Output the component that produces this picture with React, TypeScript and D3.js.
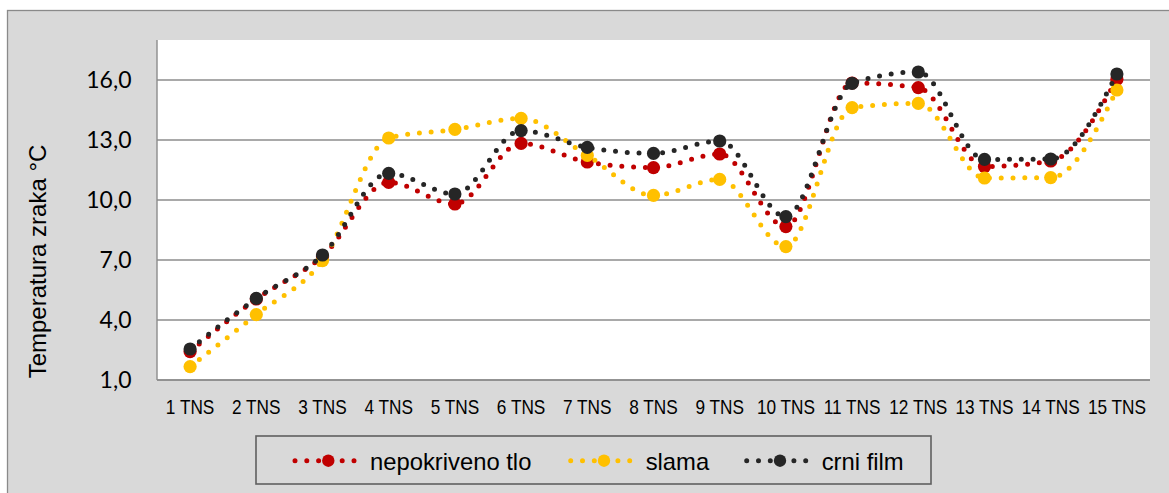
import React from 'react';
import * as d3 from 'd3';

const categories = ['1 TNS', '2 TNS', '3 TNS', '4 TNS', '5 TNS', '6 TNS', '7 TNS', '8 TNS', '9 TNS', '10 TNS', '11 TNS', '12 TNS', '13 TNS', '14 TNS', '15 TNS'];
const nepokrivenoTlo = [2.42, 5.05, 7.18, 10.88, 9.8, 12.83, 11.9, 11.62, 12.3, 8.67, 15.85, 15.62, 11.67, 11.95, 16.03];
const slama = [1.67, 4.27, 6.97, 13.1, 13.53, 14.08, 12.23, 10.23, 11.03, 7.67, 14.62, 14.83, 11.1, 11.12, 15.5];
const crniFilm = [2.55, 5.08, 7.25, 11.33, 10.3, 13.47, 12.63, 12.33, 12.95, 9.17, 15.83, 16.4, 12.03, 12.05, 16.3];
const yTicks = [1, 4, 7, 10, 13, 16];
const seriesNames = ['nepokriveno tlo', 'slama', 'crni film'];
const seriesColors = ['#c00000', '#ffc000', '#262626'];
const yTitle = 'Temperatura zraka °C';

const W = 1169;
const H = 493;
const plot = { left: 157, right: 1150, top: 40, bottom: 380 };

export default function App() {
  const x = d3.scaleBand<string>().domain(categories).range([plot.left, plot.right]);
  const y = d3.scaleLinear().domain([1, 18]).range([plot.bottom, plot.top]);
  const cx = (c: string) => (x(c) as number) + x.bandwidth() / 2;

  const allSeries = [nepokrivenoTlo, slama, crniFilm];
  const line = d3
    .line<number>()
    .x((_, i) => cx(categories[i]))
    .y((d) => y(d))
    .curve(d3.curveMonotoneX);

  const fmt = (v: number) => v.toFixed(1).replace('.', ',');

  const legendMarkerX = [328.3, 604, 780];
  const legendY = 460.7;

  return (
    <svg width={W} height={H} style={{ position: 'absolute', left: 0, top: 0 }}>
      <rect x={7.5} y={10.5} width={W} height={H} fill="#d9d9d9" stroke="#8a8a8a" strokeWidth={1.3} />
      <rect x={plot.left} y={plot.top} width={plot.right - plot.left} height={plot.bottom - plot.top} fill="#ffffff" />
      {yTicks.map((t) => (
        <line key={t} x1={plot.left} x2={plot.right} y1={y(t)} y2={y(t)} stroke="#8c8c8c" strokeWidth={1.4} />
      ))}
      <line x1={plot.left} x2={plot.left} y1={plot.top} y2={plot.bottom} stroke="#8c8c8c" strokeWidth={1.4} />
      {yTicks.map((t) => (
        <text key={'l' + t} x={131.5} y={y(t) + 8.3} textAnchor="end" fontFamily="Lato, 'Open Sans', sans-serif" fontSize={23} fill="#000">
          {fmt(t)}
        </text>
      ))}
      <text
        transform={`translate(46,261.5) rotate(-90)`}
        textAnchor="middle"
        fontFamily="'Liberation Sans', Arial, sans-serif"
        fontSize={24}
        fill="#000"
      >
        {yTitle}
      </text>
      {categories.map((c) => (
        <text
          key={c}
          transform={`translate(${cx(c)},414) scale(0.82,1)`}
          textAnchor="middle"
          fontFamily="'Liberation Sans', Arial, sans-serif"
          fontSize={21}
          fill="#000"
        >
          {c}
        </text>
      ))}
      {allSeries.map((s, si) => (
        <g key={si}>
          <path
            d={line(s) || ''}
            fill="none"
            stroke={seriesColors[si]}
            strokeWidth={5}
            strokeLinecap="round"
            strokeDasharray="0 11.8"
          />
          {s.map((v, i) => (
            <circle key={i} cx={cx(categories[i])} cy={y(v)} r={6.6} fill={seriesColors[si]} />
          ))}
        </g>
      ))}
      <line x1={plot.left} x2={plot.right} y1={plot.bottom} y2={plot.bottom} stroke="#8c8c8c" strokeWidth={1.6} />
      <rect x={256} y={436} width={675} height={48} fill="#d9d9d9" stroke="#5f5f5f" strokeWidth={1.6} />
      {seriesNames.map((n, si) => (
        <g key={n}>
          <line
            x1={legendMarkerX[si] - 33.3}
            x2={legendMarkerX[si] + 28}
            y1={legendY}
            y2={legendY}
            stroke={seriesColors[si]}
            strokeWidth={5}
            strokeLinecap="round"
            strokeDasharray="0 11.8"
          />
          <circle cx={legendMarkerX[si]} cy={legendY} r={6.2} fill={seriesColors[si]} />
          <text x={legendMarkerX[si] + 41.7} y={469.5} fontFamily="'Liberation Sans', Arial, sans-serif" fontSize={23.8} fill="#000">
            {n}
          </text>
        </g>
      ))}
    </svg>
  );
}
